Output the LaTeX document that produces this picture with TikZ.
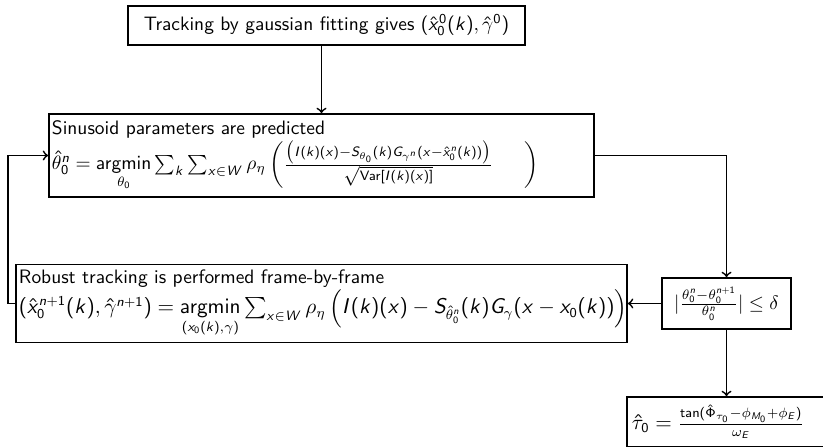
\documentclass[tikz,border=0pt]{standalone}
\usepackage{amsmath}
\renewcommand\familydefault{\sfdefault}
% sans-serif math in the style of beamer
\DeclareSymbolFont{sfit}{OT1}{cmss}{m}{sl}
\SetSymbolFont{operators}{normal}{OT1}{cmss}{m}{n}
\newcommand\sfml[1]{\DeclareMathSymbol{#1}{\mathalpha}{sfit}{`#1}}
\sfml a\sfml b\sfml c\sfml d\sfml e\sfml f\sfml g\sfml h\sfml i\sfml j\sfml k\sfml l\sfml m
\sfml n\sfml o\sfml p\sfml q\sfml r\sfml s\sfml t\sfml u\sfml v\sfml w\sfml x\sfml y\sfml z
\sfml A\sfml B\sfml C\sfml D\sfml E\sfml F\sfml G\sfml H\sfml I\sfml J\sfml K\sfml L\sfml M
\sfml N\sfml O\sfml P\sfml Q\sfml R\sfml S\sfml T\sfml U\sfml V\sfml W\sfml X\sfml Y\sfml Z
\newcommand\eqsize{\fontsize{10.5}{12.5}\selectfont}
\begin{document}
\begin{tikzpicture}[x=0.515pt,y=-0.515pt,
  box/.style={draw, line width=0.9pt, inner ysep=0pt},
  conn/.style={draw, line width=0.9pt, ->}]
\useasboundingbox (0,0) rectangle (823,447);
\node[box, minimum width=204.46pt, minimum height=20.09pt, inner xsep=0pt] (init) at (326.5,25.5)
  {Tracking by gaussian fitting gives $(\hat{x}_0^0(k),\hat{\gamma}^0)$};
\node[box, minimum height=42.75pt, inner xsep=1.55pt, text width=277.6pt, align=left] (pred) at (321.5,155.5)
  {Sinusoid parameters are predicted\\
   \mbox{$\hat{\theta}_0^n = \operatorname*{argmin}\limits_{\theta_0} \sum_k \sum_{x\in W} \rho_\eta
   \left( \frac{\big(I(k)(x)-S_{\theta_0}(k)G_{\gamma^n}(x-\hat{x}_0^n(k))\big)}{\sqrt{\operatorname{Var}[I(k)(x)]}}\hspace{16pt} \right)$}};
\node[box, minimum height=40.17pt, inner xsep=1.55pt, text width=311.6pt, align=left] (robust) at (321.5,303.5)
  {Robust tracking is performed frame-by-frame\\
   \mbox{\eqsize$(\hat{x}_0^{n+1}(k),\hat{\gamma}^{n+1}) = \operatorname*{argmin}\limits_{(x_0(k),\gamma)} \sum_{x\in W} \rho_\eta
   \left(I(k)(x)-S_{\hat{\theta}_0^n}(k)G_\gamma(x-x_0(k))\right)$}};
\node[box, minimum width=66.44pt, minimum height=26.27pt, inner xsep=0pt] (cond) at (726.5,303.5)
  {$|\frac{\theta_0^n-\theta_0^{n+1}}{\theta_0^n}| \leq \delta$};
\node[box, minimum height=25.75pt, inner xsep=2.575pt, text width=97.35pt, align=left] (tau) at (726.5,422)
  {\mbox{\eqsize$\hat{\tau}_0 = \frac{\tan(\hat{\Phi}_{\tau_0}-\phi_{M_0}+\phi_E)}{\omega_E}$}};
\coordinate (loopx) at (8,0);
\draw[conn] (init.south -| pred.north) -- (pred.north);
\draw[conn] (pred.east) -| (cond.north);
\draw[conn] (cond.west) -- (robust.east);
\draw[conn] (cond.south) -- (tau.north);
\draw[conn] (robust.west) -- (robust.west -| loopx) |- (pred.west);
\end{tikzpicture}
\end{document}
